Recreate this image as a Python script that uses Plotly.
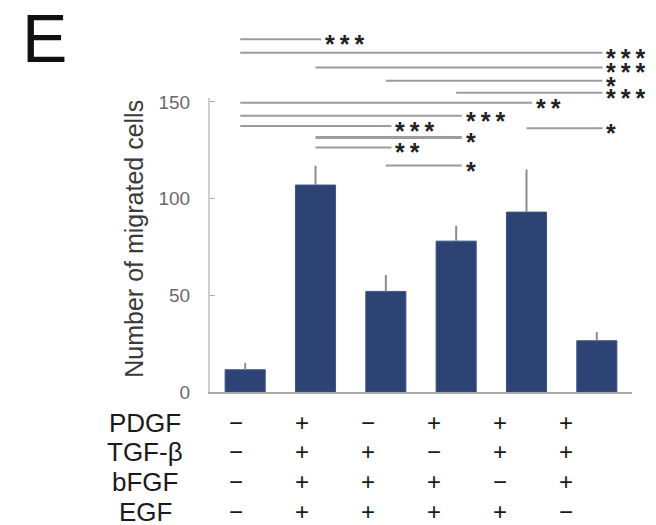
import plotly.graph_objects as go

# Migration assay: mean number of migrated cells per growth-factor combination
conditions = [0, 1, 2, 3, 4, 5]
migrated_cells = [11.5, 107, 52, 78, 93, 26.5]
error_plus = [3.5, 10, 8.5, 8, 22, 4.5]

# Treatment table printed beneath the bars
factors = ["PDGF", "TGF-β", "bFGF", "EGF"]
treatment = [
    ["−", "+", "−", "+", "+", "+"],
    ["−", "+", "+", "−", "+", "+"],
    ["−", "+", "+", "+", "−", "+"],
    ["−", "+", "+", "+", "+", "−"],
]

# Pairwise significance: (from group, to group, label)
comparisons = [
    (0, 1, "***"),
    (0, 5, "***"),
    (1, 5, "***"),
    (2, 5, "*"),
    (3, 5, "***"),
    (0, 4, "**"),
    (0, 3, "***"),
    (0, 2, "***"),
    (4, 5, "*"),
    (1, 3, "*"),
    (1, 2, "**"),
    (2, 3, "*"),
]
# bracket heights (fraction of plot height above the baseline)
bracket_levels = [1.200, 1.154, 1.104, 1.059, 1.018, 0.984,
                  0.940, 0.905, 0.897, 0.866, 0.832, 0.770]
bracket_widths = [2, 2, 2, 2, 2, 2, 2, 2, 2, 3, 2, 2]

FONT = "Arial, Liberation Sans, sans-serif"
BAR = "#2d4373"

fig = go.Figure()
fig.add_trace(go.Bar(
    x=conditions,
    y=migrated_cells,
    width=0.57,
    marker=dict(color=BAR, line=dict(color="#3c5488", width=1)),
    error_y=dict(type="data", array=error_plus, arrayminus=[0] * len(error_plus),
                 symmetric=False, color="#8c8c8c", thickness=2, width=0),
    showlegend=False,
))

shapes = []
annotations = []
for (a, b, label), lvl, lw in zip(comparisons, bracket_levels, bracket_widths):
    x0 = a - 0.07 if a == 0 else a
    x1 = b + 0.08
    shapes.append(dict(type="line", xref="x", yref="paper", x0=x0, x1=x1,
                       y0=lvl, y1=lvl, line=dict(color="#9c9c9c", width=lw)))
    annotations.append(dict(xref="x", yref="paper", x=x1, y=lvl,
                            text="<b>" + "\u2009".join(label) + "</b>",
                            showarrow=False,
                            xanchor="left", yanchor="middle", xshift=2, yshift=-5,
                            font=dict(family=FONT, size=25, color="#222222")))

# treatment rows
row_y = [-0.105, -0.204, -0.306, -0.408]
for r, (name, signs) in enumerate(zip(factors, treatment)):
    annotations.append(dict(xref="paper", yref="paper", x=-0.154, y=row_y[r],
                            text=name, showarrow=False, xanchor="center",
                            yanchor="middle",
                            font=dict(family=FONT, size=26, color="#1a1a1a")))
    for c, s in enumerate(signs):
        annotations.append(dict(xref="x2", yref="paper", x=conditions[c], y=row_y[r],
                                text=s, showarrow=False, xanchor="center",
                                yanchor="middle",
                                font=dict(family=FONT, size=24, color="#1a1a1a")))

# panel letter, anchored to the top edge of the page
annotations.append(dict(xref="paper", yref="paper", x=-0.392, y=1.333, text="E",
                        showarrow=False, xanchor="center", yanchor="top",
                        yshift=2,
                        font=dict(family=FONT, size=68, color="#111111")))
# y-axis title
annotations.append(dict(xref="paper", yref="paper", x=-0.182, y=0.522,
                        text="Number of migrated cells", textangle=-90,
                        showarrow=False, xanchor="center", yanchor="middle",
                        font=dict(family=FONT, size=25, color="#3a3a3a")))

fig.update_layout(
    width=656, height=525,
    margin=dict(l=210, r=24, t=98, b=133),
    paper_bgcolor="white", plot_bgcolor="white",
    xaxis=dict(range=[-0.5, 5.5], showticklabels=False, ticks="",
               showline=True, linecolor="#a8a8a8", linewidth=2,
               showgrid=False, zeroline=False),
    xaxis2=dict(range=[-0.394, 6.0], overlaying="x", visible=False),
    yaxis=dict(range=[0, 152], tickvals=[0, 50, 100, 150],
               ticks="inside", ticklen=5, tickcolor="#b0b0b0", tickwidth=1,
               showline=True, linecolor="#cfcfcf", linewidth=2,
               showgrid=False, zeroline=False, ticklabelstandoff=14,
               tickfont=dict(family=FONT, size=19, color="#6a6a6a")),
    shapes=shapes,
    annotations=annotations,
)

fig.write_html("out.html")
